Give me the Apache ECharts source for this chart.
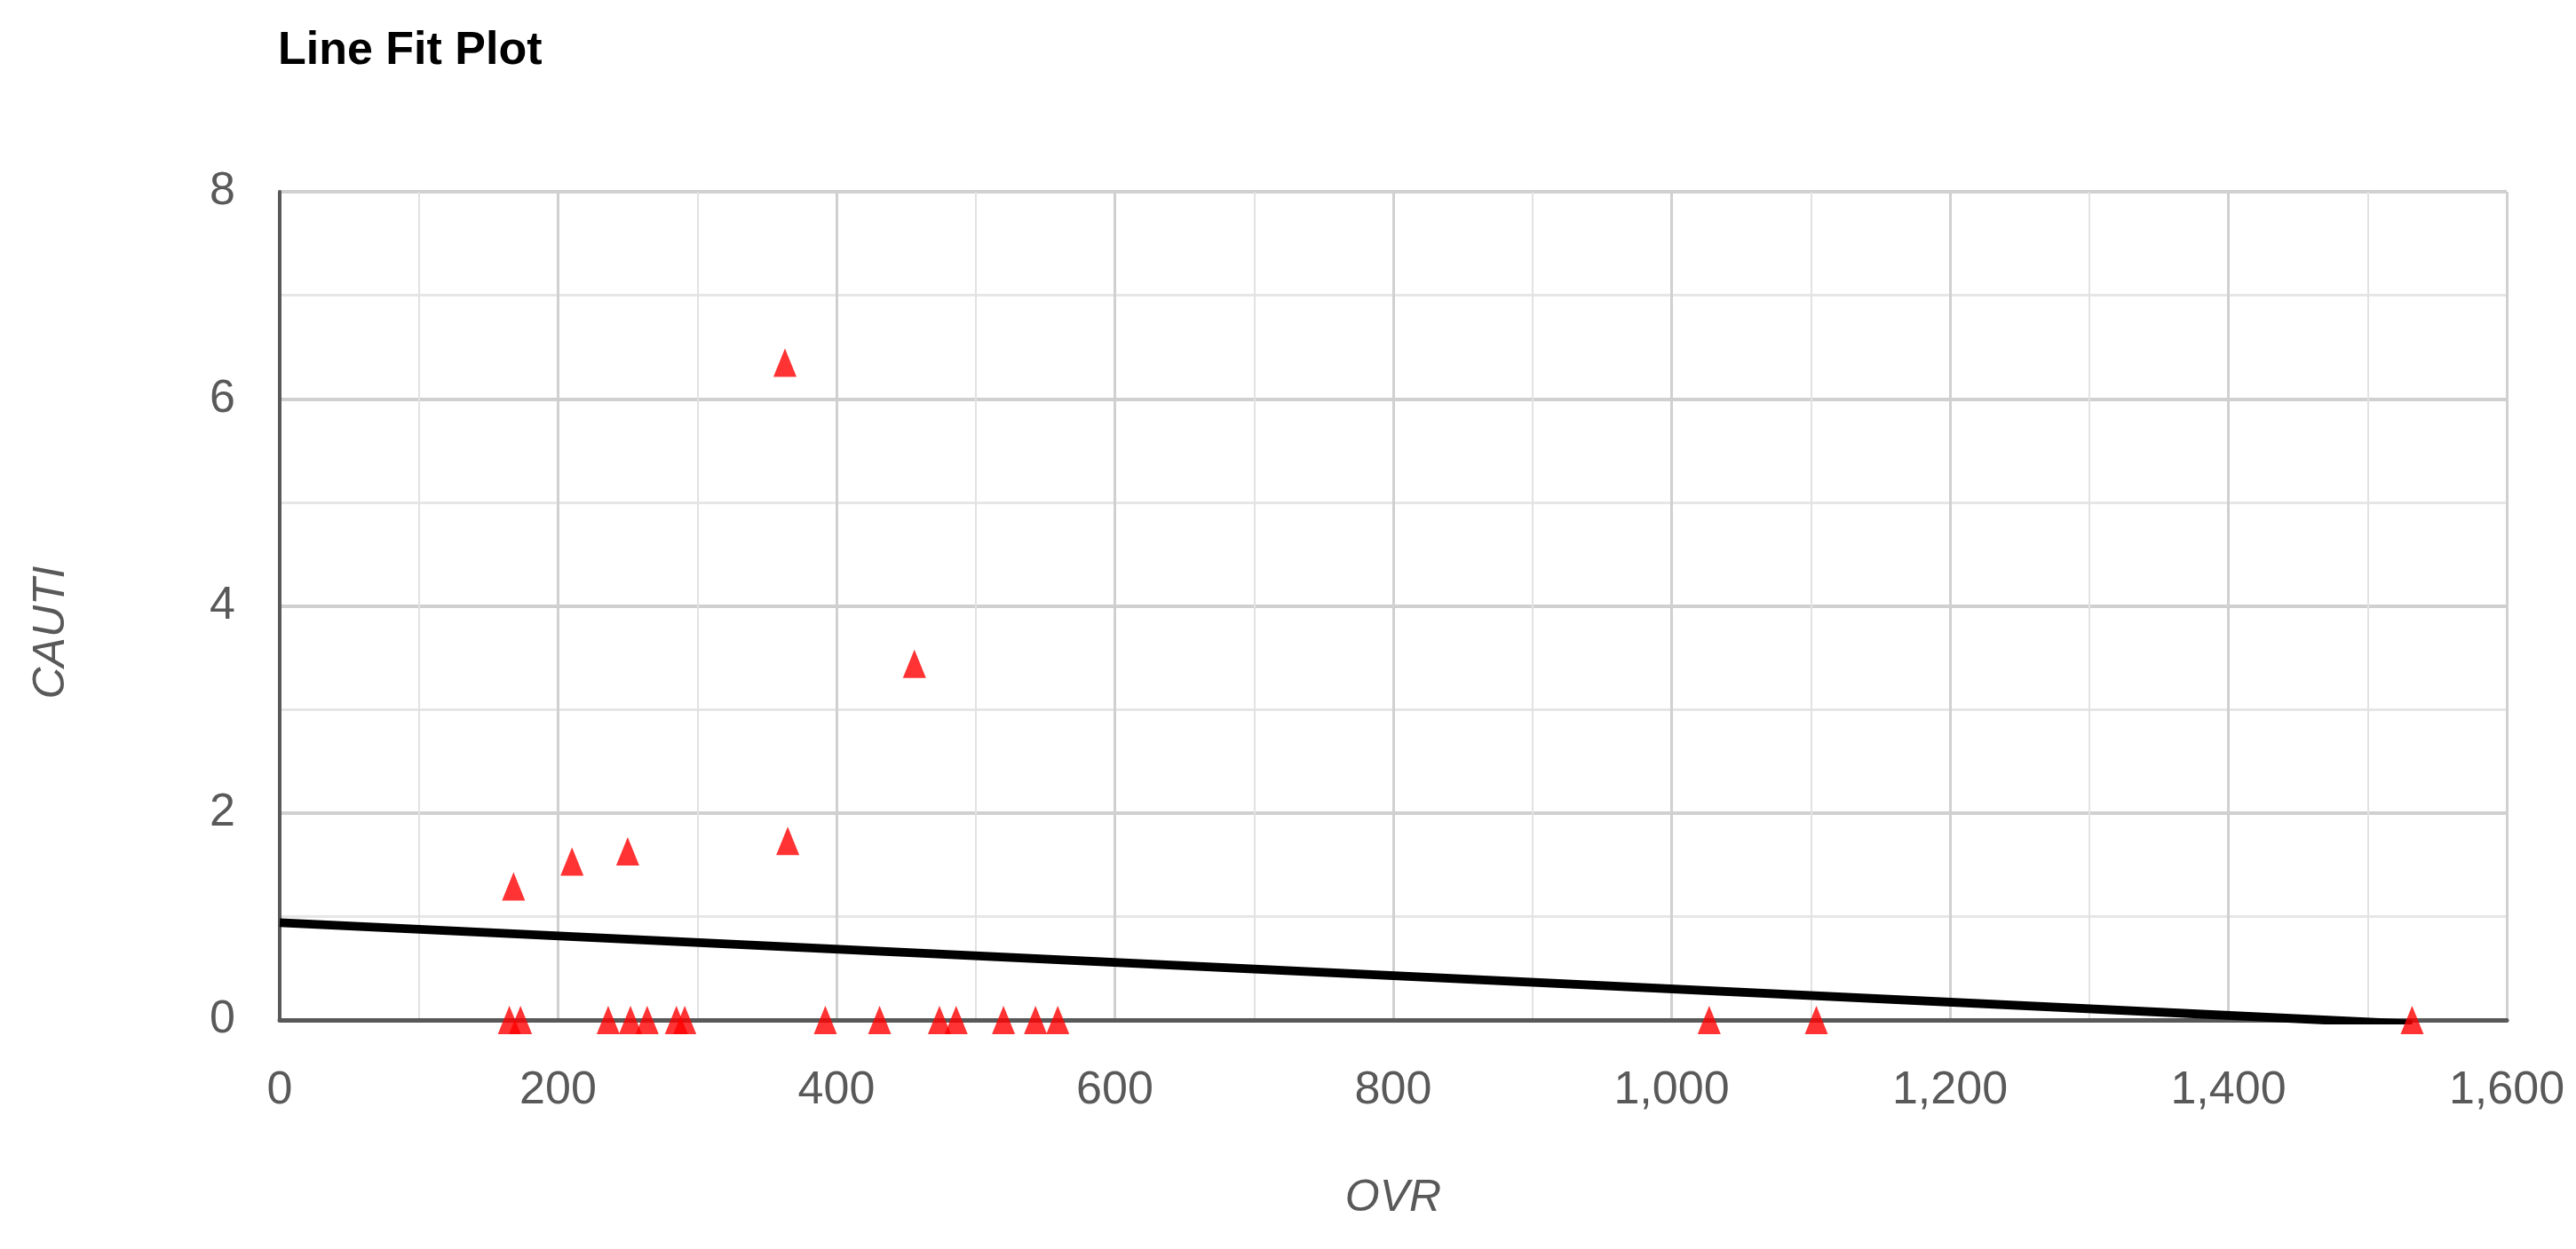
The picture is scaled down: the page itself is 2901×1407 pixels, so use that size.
<!doctype html>
<html lang="en">
<head>
<meta charset="utf-8"/>
<title>Line Fit Plot</title>
<style>
  html, body { margin: 0; padding: 0; background: #ffffff; }
  #chart { width: 2901px; height: 1407px; }
</style>
</head>
<body>
<div id="chart"></div>
<script src="https://cdn.jsdelivr.net/npm/echarts@6/dist/echarts.min.js"></script>
<script>
  const ovrZero = [165, 173, 236, 252, 264, 285, 291, 392, 431, 474, 486, 520, 543, 559, 1027, 1104, 1532];
  const ovrHigh = [168, 210, 250, 365, 363, 456];
  const cautiHigh = [1.29, 1.53, 1.63, 1.73, 6.35, 3.44];
  // Predicted CAUTI line, endpoints as drawn.
  const fitOvr = [0, 1532];
  const fitCauti = [0.94, -0.04];

  const xTicks = { min: 0, max: 1600, interval: 200 };
  const yTicks = { min: 0, max: 8, interval: 2 };

  const FONT = "'Liberation Sans', Arial, sans-serif";
  const GREY = "#595959";

  const observed = ovrZero.map((x) => [x, 0])
    .concat(ovrHigh.map((x, i) => [x, cautiHigh[i]]));
  const predicted = fitOvr.map((x, i) => [x, fitCauti[i]]);

  const chart = echarts.init(document.getElementById("chart"), null, { renderer: "canvas" });
  chart.setOption({
    animation: false,
    backgroundColor: "#ffffff",
    title: {
      text: "Line Fit Plot",
      left: 313, top: 32, padding: 0,
      textStyle: { fontFamily: FONT, fontSize: 52, fontWeight: "bold", color: "#000000" },
    },
    grid: { left: 315, right: 78, top: 216, bottom: 258, containLabel: false },
    xAxis: {
      type: "value",
      min: xTicks.min, max: xTicks.max, interval: xTicks.interval,
      name: "OVR", nameLocation: "middle", nameGap: 176,
      nameTextStyle: { fontFamily: FONT, fontSize: 50, fontStyle: "italic", color: GREY },
      axisLine: { show: true, onZero: false, lineStyle: { color: GREY, width: 5 } },
      axisTick: { show: false },
      axisLabel: {
        margin: 54, fontFamily: FONT, fontSize: 52, color: GREY,
        formatter: (v) => v.toLocaleString("en-US"),
      },
      splitLine: { show: true, lineStyle: { color: "#d0d0d0", width: 3 } },
      minorTick: { show: false, splitNumber: 2 },
      minorSplitLine: { show: true, lineStyle: { color: "#e2e2e2", width: 2 } },
    },
    yAxis: {
      type: "value",
      min: yTicks.min, max: yTicks.max, interval: yTicks.interval,
      name: "CAUTI", nameLocation: "middle", nameGap: 232, nameRotate: 90,
      nameTextStyle: {
        fontFamily: FONT, fontSize: 50,
        fontStyle: "italic", color: GREY, padding: [0, 60, 0, 0],
      },
      axisLine: { show: true, onZero: false, lineStyle: { color: GREY, width: 4 } },
      axisTick: { show: false },
      axisLabel: { margin: 50, fontFamily: FONT, fontSize: 52, color: GREY },
      splitLine: { show: true, lineStyle: { color: "#d0d0d0", width: 4 } },
      minorTick: { show: false, splitNumber: 2 },
      minorSplitLine: { show: true, lineStyle: { color: "#e6e6e6", width: 3 } },
    },
    series: [
      {
        name: "Predicted CAUTI",
        type: "line",
        data: predicted,
        showSymbol: false,
        clip: true,
        lineStyle: { color: "#000000", width: 10 },
        z: 3,
      },
      {
        name: "CAUTI",
        type: "scatter",
        data: observed,
        symbol: "triangle",
        symbolSize: [26, 32],
        itemStyle: { color: "#ff0000" },
        clip: false,
        z: 4,
      },
    ],
  });
</script>
</body>
</html>
